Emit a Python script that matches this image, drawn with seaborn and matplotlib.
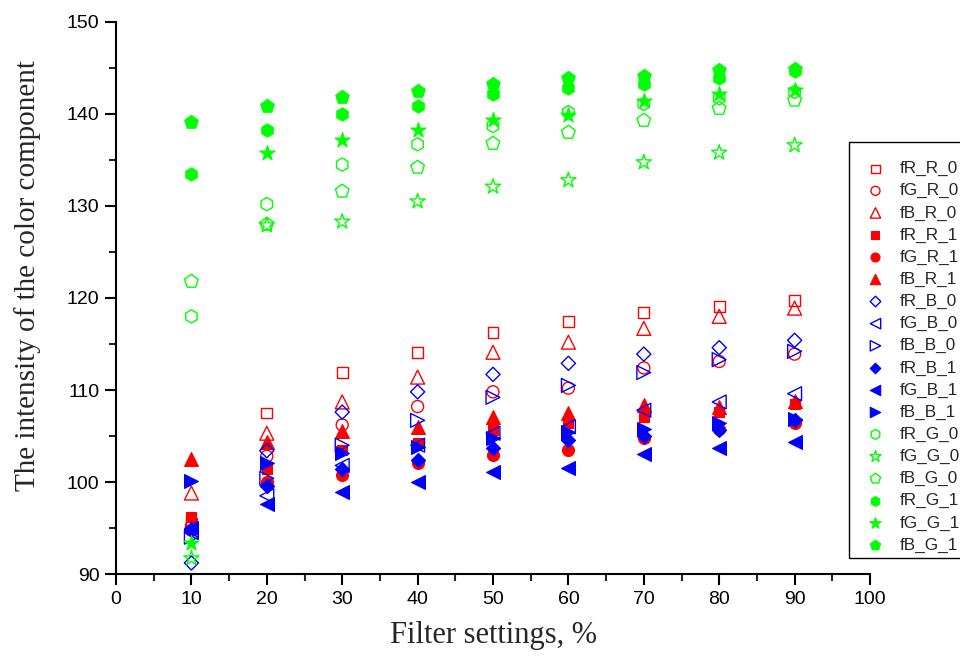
import matplotlib
matplotlib.use("Agg")
import matplotlib.pyplot as plt
import seaborn as sns
import pandas as pd

# ---- data ----
filter_pct = [10, 20, 30, 40, 50, 60, 70, 80, 90]

fR_R_0 = [95.5, 107.5, 111.9, 114.1, 116.2, 117.4, 118.4, 119.1, 119.7]
fG_R_0 = [95.2, 102.8, 106.2, 108.2, 109.8, 110.2, 112.4, 113.1, 113.9]
fB_R_0 = [98.8, 105.3, 108.7, 111.4, 114.1, 115.2, 116.7, 118.0, 118.9]
fR_R_1 = [96.2, 101.4, 103.5, 104.2, 105.7, 106.4, 107.1, 107.6, 108.5]
fG_R_1 = [94.8, 100.0, 100.8, 102.1, 102.9, 103.5, 104.8, 105.8, 106.4]
fB_R_1 = [102.5, 104.4, 105.5, 106.0, 107.1, 107.5, 108.4, 108.2, 108.8]
fR_B_0 = [91.2, 103.4, 107.6, 109.8, 111.7, 112.9, 113.9, 114.6, 115.4]
fG_B_0 = [94.5, 98.5, 101.8, 104.0, 105.3, 106.0, 107.8, 108.7, 109.6]
fB_B_0 = [94.0, 100.4, 104.0, 106.7, 109.2, 110.5, 111.9, 113.3, 114.2]
fR_B_1 = [94.9, 99.6, 101.4, 102.4, 103.7, 104.6, 105.0, 105.7, 106.7]
fG_B_1 = [95.0, 97.6, 98.9, 100.0, 101.1, 101.5, 103.0, 103.7, 104.4]
fB_B_1 = [100.1, 102.1, 103.2, 103.8, 104.8, 105.4, 105.8, 106.4, 106.8]
fR_G_0 = [118.0, 130.2, 134.5, 136.7, 138.7, 140.2, 141.1, 141.7, 142.4]
fG_G_0 = [91.7, 127.9, 128.3, 130.5, 132.1, 132.8, 134.75, 135.8, 136.6]
fB_G_0 = [121.8, 128.0, 131.6, 134.2, 136.8, 138.0, 139.3, 140.6, 141.5]
fR_G_1 = [133.5, 138.3, 140.0, 140.9, 142.2, 142.8, 143.3, 143.9, 144.7]
fG_G_1 = [93.4, 135.8, 137.2, 138.3, 139.3, 139.9, 141.4, 142.2, 142.6]
fB_G_1 = [139.1, 140.9, 141.9, 142.5, 143.3, 143.9, 144.1, 144.8, 144.9]

series_names = ["fR_R_0", "fG_R_0", "fB_R_0", "fR_R_1", "fG_R_1", "fB_R_1",
                "fR_B_0", "fG_B_0", "fB_B_0", "fR_B_1", "fG_B_1", "fB_B_1",
                "fR_G_0", "fG_G_0", "fB_G_0", "fR_G_1", "fG_G_1", "fB_G_1"]
series_values = [fR_R_0, fG_R_0, fB_R_0, fR_R_1, fG_R_1, fB_R_1,
                 fR_B_0, fG_B_0, fB_B_0, fR_B_1, fG_B_1, fB_B_1,
                 fR_G_0, fG_G_0, fB_G_0, fR_G_1, fG_G_1, fB_G_1]

# ---- styles ----
RED, BLUE, GREEN = "#ff0000", "#0000ff", "#00ff00"
styles = [
    (RED, "s", False, 62), (RED, "o", False, 75), (RED, "^", False, 100),
    (RED, "s", True, 62), (RED, "o", True, 75), (RED, "^", True, 100),
    (BLUE, "D", False, 52), (BLUE, "<", False, 100), (BLUE, ">", False, 100),
    (BLUE, "D", True, 52), (BLUE, "<", True, 100), (BLUE, ">", True, 100),
    (GREEN, "h", False, 90), (GREEN, "*", False, 130), (GREEN, "p", False, 105),
    (GREEN, "h", True, 90), (GREEN, "*", True, 130), (GREEN, "p", True, 105),
]

sns.set_style("ticks")
plt.rcParams["font.family"] = ["Liberation Sans", "DejaVu Sans"]

fig = plt.figure(figsize=(9.6, 6.63), dpi=100)
ax = fig.add_axes([116 / 960, 1 - 574 / 663, (870 - 116) / 960, (574 - 22) / 663])

for name, vals, (col, mk, filled, size) in zip(series_names, series_values, styles):
    df = pd.DataFrame({"x": filter_pct, "y": vals})
    if filled:
        sns.scatterplot(data=df, x="x", y="y", ax=ax, marker=mk, s=size,
                        facecolor=col, edgecolor=col, linewidth=0.8, label=name)
    else:
        sns.scatterplot(data=df, x="x", y="y", ax=ax, marker=mk, s=size,
                        facecolor="none", edgecolor=col, linewidth=1.0, label=name)

ax.set_xlim(0, 100)
ax.set_ylim(90, 150)
ax.set_xticks(range(0, 101, 10))
ax.set_xticks(range(5, 100, 10), minor=True)
ax.set_yticks(range(90, 151, 10))
ax.set_yticks(range(95, 150, 10), minor=True)
ax.tick_params(which="major", direction="out", length=8, width=1.5,
               labelsize=14, pad=4, colors="black")
ax.tick_params(which="minor", direction="out", length=5, width=1.5)
for sp in ["top", "right"]:
    ax.spines[sp].set_visible(False)
for sp in ["left", "bottom"]:
    ax.spines[sp].set_linewidth(1.5)
    ax.spines[sp].set_color("black")

ax.set_xlabel("Filter settings, %", fontsize=22, family="Liberation Serif")
ax.set_ylabel("The intensity of the color component", fontsize=21,
              family="Liberation Serif")
ax.xaxis.set_label_coords(0.5, -0.085)
ax.yaxis.set_label_coords(-0.1, 0.54)

leg = ax.legend(loc="upper left", bbox_to_anchor=(849 / 960, 1 - 142 / 663),
                bbox_transform=fig.transFigure, borderaxespad=0,
                frameon=True, fancybox=False,
                framealpha=1, edgecolor="black", fontsize=12.3,
                title=" ", title_fontsize=5,
                labelspacing=0.41, borderpad=0.3, handlelength=2.5,
                handletextpad=0.18, markerscale=0.75)
leg.get_frame().set_linewidth(1.0)

fig.savefig("out.png", dpi=100)
